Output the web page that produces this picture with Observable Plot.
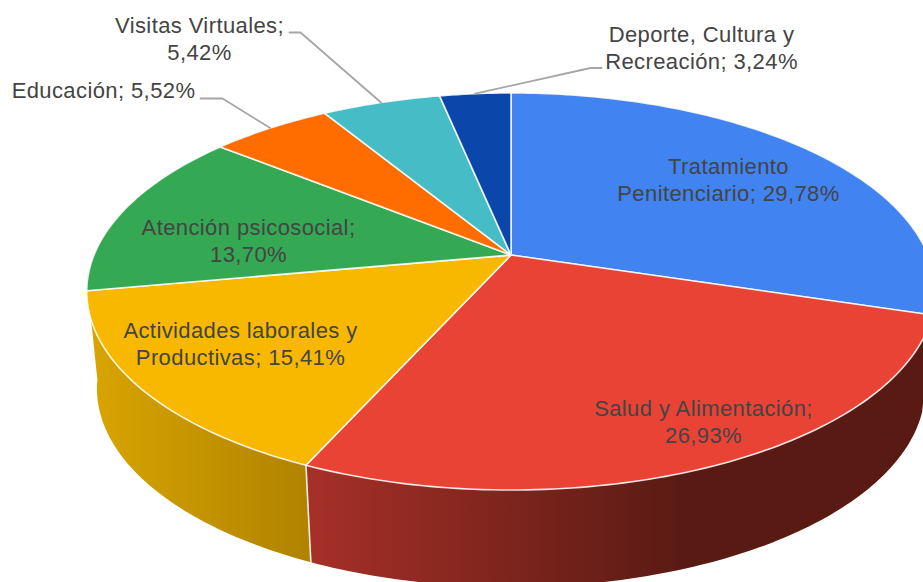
<!DOCTYPE html>
<html lang="es">
<head>
<meta charset="utf-8">
<style>
html,body{margin:0;padding:0;background:#fff;overflow:hidden}
svg{display:block}
</style>
<script src="https://cdn.jsdelivr.net/npm/d3@7"></script>
<script src="https://cdn.jsdelivr.net/npm/@observablehq/plot@0.6"></script>
</head>
<body>
<div id="chart"></div>
<script>
// ---- data ----
const categories = ["Tratamiento Penitenciario", "Salud y Alimentación", "Actividades laborales y Productivas", "Atención psicosocial", "Educación", "Visitas Virtuales", "Deporte, Cultura y Recreación"];
const shares = [29.78, 26.93, 15.41, 13.70, 5.52, 5.42, 3.24];
const shareLabels = ["29,78%", "26,93%", "15,41%", "13,70%", "5,52%", "5,42%", "3,24%"];
const colors = ["#4183f0", "#e94335", "#f9b800", "#34a853", "#ff6d01", "#46bdc6", "#0b47ab"];
const labelLines = [
  "Tratamiento\nPenitenciario; ",
  "Salud y Alimentación;\n",
  "Actividades laborales y\nProductivas; ",
  "Atención psicosocial;\n",
  "Educación; ",
  "Visitas Virtuales;\n",
  "Deporte, Cultura y\nRecreación; "
];
// ---- label layout ----
const labelX = [728, 703, 240, 248, 103, 199, 701];
const labelY = [178, 420, 342, 239, 89, 37, 46];
const leaderElbow = [null, null, null, null, [[222, 98], [200, 98]], [[300, 32], [289, 32]], [[590, 67.5], [601, 67.5]]];

// ---- perspective pie geometry ----
const W = 923, H = 582;
const view = {cx: 510.5, cy: 254.5, a: 417, b: 191.8, k: 0.1839};
const base = {cx: 510.5, cy: 351.5, a: 407, b: 191.8, k: 0.1839};
const project = (g, deg) => {
  const t = deg * Math.PI / 180, u = Math.sin(t), v = -Math.cos(t), w = 1 - g.k * v;
  return {x: g.cx + g.a * u / w, y: g.cy + g.b * v / w};
};
const arc = (g, d0, d1) => {
  const n = Math.max(2, Math.ceil(Math.abs(d1 - d0)));
  return d3.range(n + 1).map(i => project(g, d0 + (d1 - d0) * i / n));
};
const total = d3.sum(shares);
const cum = d3.cumsum(shares);
const start = i => (i === 0 ? 0 : cum[i - 1]) / total * 360;
const end = i => cum[i] / total * 360;

const centre = {x: view.cx, y: view.cy};
const slicePts = shares.map((_, i) => [centre, ...arc(view, start(i), end(i)), centre]);
const wall = (d0, d1) => [...arc(view, d0, d1), ...arc(base, d1, d0)];

const gradient = (id, x1, x2, c1, c2) => {
  const ns = "http://www.w3.org/2000/svg";
  const g = document.createElementNS(ns, "linearGradient");
  g.setAttribute("id", id);
  g.setAttribute("gradientUnits", "userSpaceOnUse");
  g.setAttribute("x1", x1); g.setAttribute("x2", x2);
  g.setAttribute("y1", 0); g.setAttribute("y2", 0);
  [[0, c1], [1, c2]].forEach(([o, c]) => {
    const s = document.createElementNS(ns, "stop");
    s.setAttribute("offset", o); s.setAttribute("stop-color", c);
    g.appendChild(s);
  });
  return g;
};
const defs = () => {
  const ns = "http://www.w3.org/2000/svg";
  const d = document.createElementNS(ns, "defs");
  d.appendChild(gradient("wallRed", 307, 690, "#a63028", "#581a13"));
  d.appendChild(gradient("wallYellow", 92, 310, "#d8a400", "#b08200"));
  return d;
};

const seamAngle = end(1);
const labelData = categories.map((c, i) => ({name: c, text: labelLines[i] + shareLabels[i], x: labelX[i], y: labelY[i]}));
const leaders = leaderElbow.flatMap((e, i) => e ? [{i, pts: [project(view, (start(i) + end(i)) / 2), ...e.map(([x, y]) => ({x, y}))]}] : []);

const chart = Plot.plot({
  width: W, height: H,
  marginTop: 0, marginRight: 0, marginBottom: 0, marginLeft: 0,
  x: {domain: [0, W], range: [0, W], axis: null},
  y: {domain: [0, H], range: [0, H], axis: null},
  style: {background: "#fff", fontFamily: "'Liberation Sans', Arial, sans-serif", letterSpacing: "0.4px"},
  marks: [
    defs,
    Plot.line(wall(end(1), 262), {x: "x", y: "y", fill: "url(#wallYellow)", stroke: "none"}),
    Plot.line(wall(start(1), end(1)), {x: "x", y: "y", fill: "url(#wallRed)", stroke: "none"}),
    Plot.line([project(view, seamAngle), project(base, seamAngle)], {x: "x", y: "y", stroke: "#f4f0e4", strokeWidth: 1.6}),
    ...slicePts.map((pts, i) => Plot.line(pts, {x: "x", y: "y", fill: colors[i], stroke: "#fff", strokeOpacity: 0.85, strokeWidth: 1.6, strokeLinejoin: "round"})),
    ...leaders.map(l => Plot.line(l.pts, {x: "x", y: "y", stroke: "#a6a6a6", strokeWidth: 1.8})),
    Plot.text(labelData, {x: "x", y: "y", text: "text", fontSize: 22, lineHeight: 1.23, fill: "#444", textAnchor: "middle", lineAnchor: "middle"})
  ]
});
document.getElementById("chart").appendChild(chart);
</script>
</body>
</html>
